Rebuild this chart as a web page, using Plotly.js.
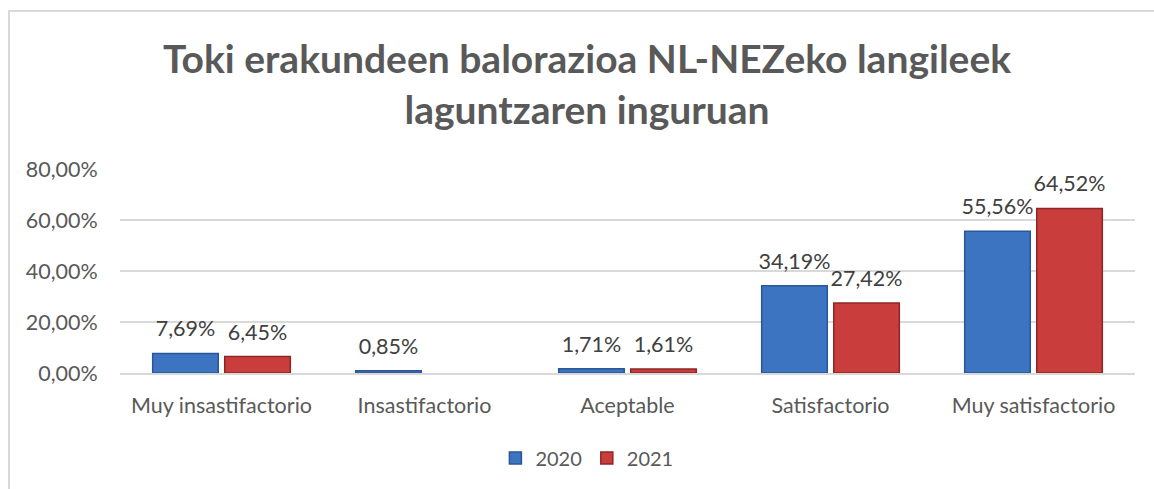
<!DOCTYPE html>
<html>
<head>
<meta charset="utf-8">
<script src="https://cdn.plot.ly/plotly-3.0.1.min.js"></script>
<style>
  html, body { margin: 0; padding: 0; background: #fff; }
  #wrap { position: relative; width: 1154px; height: 489px; }
  #frame { position: absolute; left: 8px; top: 10px; right: -2px; bottom: -2px; border: 2px solid #d9d9d9; pointer-events: none; }
  #chart { position: absolute; left: 0; top: 0; width: 1154px; height: 489px; }
</style>
</head>
<body>
<div id="wrap">
  <div id="chart"></div>
  <div id="frame"></div>
</div>
<script>
const categories = ["Muy insastifactorio", "Insastifactorio", "Aceptable", "Satisfactorio", "Muy satisfactorio"];
const values2020 = [7.69, 0.85, 1.71, 34.19, 55.56];
const values2021 = [6.45, 0, 1.61, 27.42, 64.52];
const labels2020 = ["7,69%", "0,85%", "1,71%", "34,19%", "55,56%"];
const labels2021 = ["6,45%", "", "1,61%", "27,42%", "64,52%"];
const yTickVals = [0, 20, 40, 60, 80];
const yTickText = ["0,00%", "20,00%", "40,00%", "60,00%", "80,00%"];
const chartTitle = "Toki erakundeen balorazioa NL-NEZeko langileek<br>laguntzaren inguruan";

const FONT = "Lato, 'Open Sans', sans-serif";
const LABEL_TEMPLATE = "<span style='font-size:21.5px'>%{text}</span><br><span style='font-size:6px'> </span>";

function lineWidths(vals) { return vals.map(v => v > 0 ? 1.5 : 0); }

const traces = [
  {
    type: "bar", name: "2020", x: categories, y: values2020,
    text: labels2020, texttemplate: LABEL_TEMPLATE, textposition: "outside", cliponaxis: false,
    constraintext: "none",
    textfont: {family: FONT, size: 10, color: "#404040"},
    marker: {color: "#3D74C2", line: {color: "#2A5597", width: lineWidths(values2020)}},
    hoverinfo: "skip"
  },
  {
    type: "bar", name: "2021", x: categories, y: values2021,
    text: labels2021, texttemplate: LABEL_TEMPLATE, textposition: "outside", cliponaxis: false,
    constraintext: "none",
    textfont: {family: FONT, size: 10, color: "#404040"},
    marker: {color: "#C93D3D", line: {color: "#8F2626", width: lineWidths(values2021)}},
    hoverinfo: "skip"
  }
];

const layout = {
  width: 1154, height: 489,
  margin: {l: 120, r: 19, t: 169, b: 116, pad: 0, autoexpand: false},
  paper_bgcolor: "rgba(0,0,0,0)",
  plot_bgcolor: "rgba(0,0,0,0)",
  font: {family: FONT, color: "#595959", size: 18},
  title: {
    text: chartTitle,
    font: {family: FONT, size: 39, color: "#595959", weight: "bold"},
    x: 587/1154, xref: "container", xanchor: "center",
    y: 1 - 73/489, yref: "container", yanchor: "middle"
  },
  barmode: "group",
  bargap: 0.29,
  bargroupgap: 0.09,
  showlegend: true,
  legend: {
    orientation: "h", x: 0.46, xanchor: "center", y: -0.417, yanchor: "middle",
    font: {family: FONT, size: 20, color: "#595959"},
    traceorder: "normal", itemwidth: 30
  },
  xaxis: {
    type: "category",
    showgrid: false, zeroline: false,
    showline: true, linecolor: "#d9d9d9", linewidth: 1.5,
    ticks: "outside", ticklen: 13, tickcolor: "rgba(0,0,0,0)",
    tickangle: 0, automargin: false,
    tickfont: {family: FONT, size: 21.5, color: "#595959"},
    fixedrange: true
  },
  yaxis: {
    range: [0, 80],
    tickvals: yTickVals, ticktext: yTickText,
    showgrid: true, gridcolor: "#d9d9d9", gridwidth: 1.5,
    zeroline: false, showline: false, automargin: false,
    ticks: "outside", ticklen: 17, tickcolor: "rgba(0,0,0,0)",
    tickfont: {family: FONT, size: 21.5, color: "#595959"},
    fixedrange: true
  }
};

Plotly.newPlot("chart", traces, layout, {displayModeBar: false, staticPlot: true});
</script>
</body>
</html>
